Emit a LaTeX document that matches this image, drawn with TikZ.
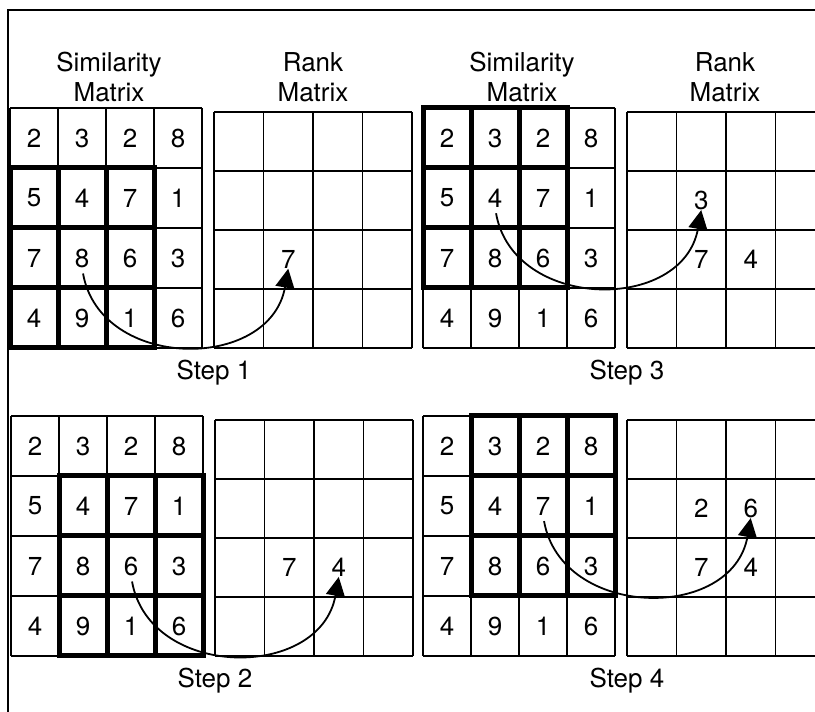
\documentclass[tikz,border=0pt]{standalone}
\usepackage{fontspec}
\setmainfont{TeX Gyre Heros}
\usetikzlibrary{arrows.meta}

\begin{document}
\begin{tikzpicture}[x=1pt, y=1pt,
    gridline/.style={line width=1.8pt},
    window/.style={line width=5pt, line cap=rect},
    entry/.style={font=\fontsize{26}{26}\selectfont, inner sep=0pt},
    heading/.style={font=\fontsize{26}{30}\selectfont, align=center,
      anchor=south, inner sep=0pt},
    steplabel/.style={font=\fontsize{26}{30}\selectfont, anchor=base},
    placearrow/.style={line width=1.8pt, -{Triangle[width=19pt,length=19pt]},
      shorten <=6pt, out=-80, in=-100, looseness=1.3}]

  % Page and frame
  \useasboundingbox (0,0) rectangle (815,712);
  \clip (0,0) rectangle (815,712);
  \draw[gridline] (8,0) -- (8,702) -- (815,702);

  % Titles
  \node[heading] at (109,610) {Similarity\\Matrix};
  \node[heading] at (313,610) {Rank\\Matrix};
  \node[heading] at (522,610) {Similarity\\Matrix};
  \node[heading] at (725,610) {Rank\\Matrix};

  % Panels: number / origin / window offset (rows, columns)
  \foreach \p/\ox/\oy/\wr/\wc in {1/10/604/1/0, 2/11/296/1/1,
                                  3/423/604/0/0, 4/423/296/0/1} {
    \begin{scope}[shift={(\ox,\oy)}]
      % Grids
      \foreach \i in {0,...,4} {
        \draw[gridline] (\i*48,0) -- (\i*48,-240);
        \draw[gridline] (0,-\i*60) -- (192,-\i*60);
        \draw[gridline] (204+\i*49.5,-4) -- (204+\i*49.5,-240);
        \draw[gridline] (204,-4-\i*59) -- (402,-4-\i*59);
      }
      % Sliding window
      \draw[window, shift={(\wc*48,-\wr*60)}]
        (0,0) rectangle (144,-180)
        (48,0) -- (48,-180) (96,0) -- (96,-180)
        (0,-60) -- (144,-60) (0,-120) -- (144,-120);
      % Similarity values
      \foreach \vals [count=\r] in {{2,3,2,8},{5,4,7,1},{7,8,6,3},{4,9,1,6}}
        \foreach \v [count=\c] in \vals
          \node[entry] (s\p-\r\c) at (\c*48-24, 30-\r*60) {\v};
      % Rank cells
      \foreach \r in {1,...,4}
        \foreach \c in {1,...,4}
          \coordinate (r\p-\r\c) at (204+\c*49.5-24.75, -4-\r*59+29.5);
      \node[steplabel] at (204,-272) {Step \p};
    \end{scope}
  }

  % Step 1
  \node[entry] (k1-32) at (r1-32) {7};
  \draw[placearrow] (s1-32.south) to (k1-32.south);

  % Step 2
  \node[entry] (k2-32) at (r2-32) {7};
  \node[entry] (k2-33) at (r2-33) {4};
  \draw[placearrow] (s2-33.south) to (k2-33.south);

  % Step 3
  \node[entry] (k3-22) at (r3-22) {3};
  \node[entry] (k3-32) at (r3-32) {7};
  \node[entry] (k3-33) at (r3-33) {4};
  \draw[placearrow] (s3-22.south) to (k3-22.south);

  % Step 4
  \node[entry] (k4-22) at (r4-22) {2};
  \node[entry] (k4-23) at (r4-23) {6};
  \node[entry] (k4-32) at (r4-32) {7};
  \node[entry] (k4-33) at (r4-33) {4};
  \draw[placearrow] (s4-23.south) to (k4-23.south);

\end{tikzpicture}
\end{document}
